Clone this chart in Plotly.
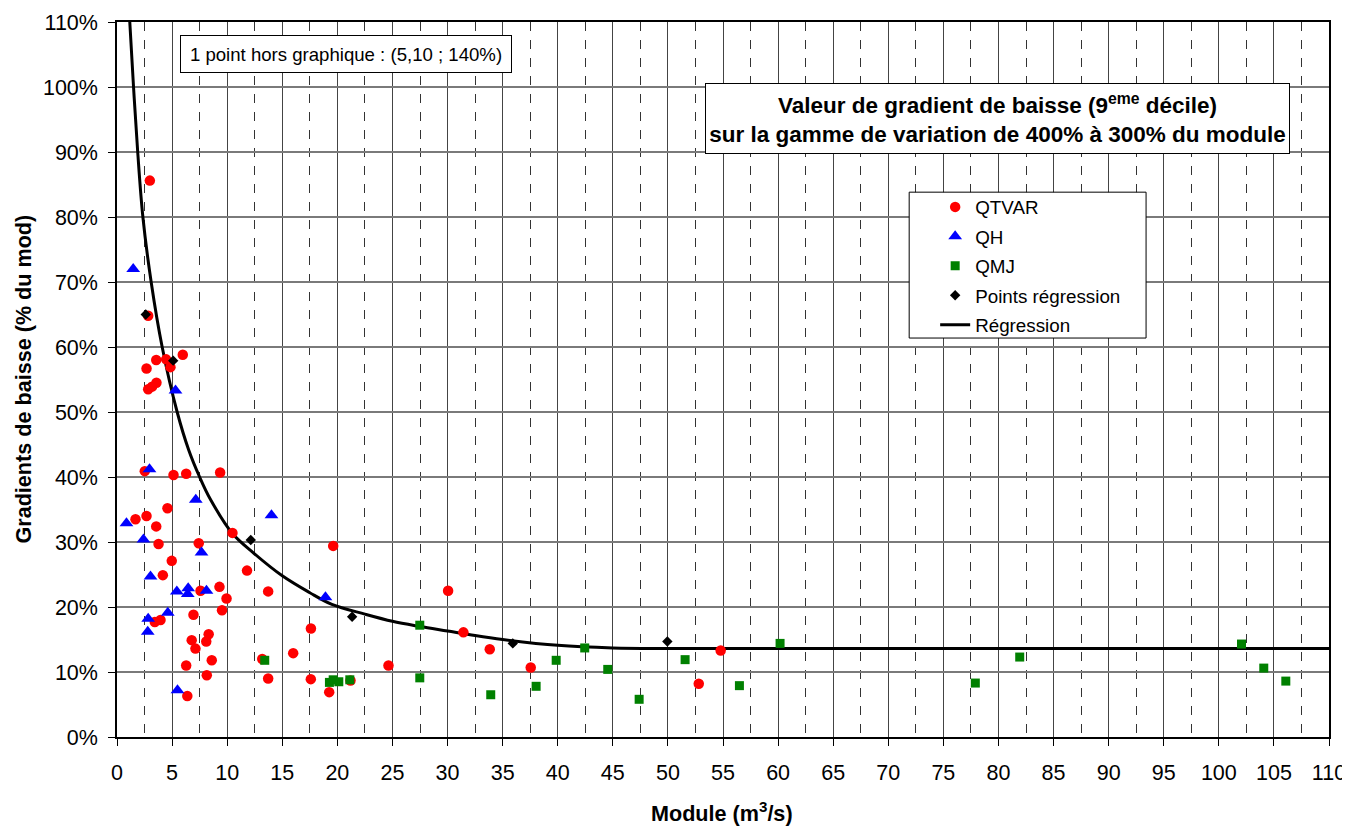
import plotly.graph_objects as go

# ---------------- data ----------------
qtvar_x = [2.98, 2.83, 2.68, 3.56, 4.46, 4.85, 5.97, 2.83, 3.18, 3.58, 2.52, 5.13, 6.28, 9.36,
           4.58, 1.68, 2.68, 3.56, 10.48, 3.77, 7.42, 4.97, 11.8, 4.16, 7.58, 9.3, 13.72, 9.94,
           9.53, 6.94, 3.43, 3.95, 8.32, 8.1, 6.78, 7.12, 15.99, 13.18, 8.6, 6.28, 8.15, 13.72,
           17.59, 17.6, 6.38, 19.62, 30.05, 31.44, 24.64, 19.26, 21.19, 33.83, 37.55, 52.8, 54.79]
qtvar_y = [85.6, 64.8, 56.7, 58.0, 58.1, 56.9, 58.8, 53.5, 53.9, 54.5, 40.9, 40.3, 40.5, 40.7,
           35.2, 33.5, 34.0, 32.4, 31.4, 29.7, 29.8, 27.1, 25.6, 24.9, 22.5, 23.1, 22.4, 21.3,
           19.5, 18.8, 17.7, 18.0, 15.8, 14.7, 14.9, 13.6, 12.9, 12.0, 11.8, 11.0, 9.5, 9.0,
           8.9, 16.7, 6.3, 29.4, 22.5, 16.1, 11.0, 6.9, 8.7, 13.5, 10.7, 8.2, 13.3]

qh_x = [1.47, 5.31, 2.95, 7.15, 14.02, 0.86, 2.4, 7.67, 3.04, 5.43, 6.46, 6.42, 8.12, 4.61,
        2.83, 2.79, 5.49, 18.92]
qh_y = [72.0, 53.3, 41.2, 36.5, 34.1, 32.9, 30.4, 28.4, 24.7, 22.4, 22.9, 22.0, 22.5, 19.1,
        18.2, 16.2, 7.2, 21.5]

qmj_x = [13.41, 27.48, 27.48, 19.62, 19.28, 20.13, 21.13, 33.92, 38.04, 39.86, 42.45, 44.54,
         47.39, 51.56, 56.49, 60.18, 77.9, 81.93, 102.06, 104.08, 106.08]
qmj_y = [11.8, 17.2, 9.1, 8.8, 8.4, 8.5, 8.8, 6.5, 7.8, 11.8, 13.7, 10.4,
         5.8, 11.9, 7.9, 14.4, 8.3, 12.3, 14.3, 10.6, 8.6]

reg_pts_x = [2.61, 5.1, 12.14, 21.34, 35.92, 49.95]
reg_pts_y = [65.0, 57.9, 30.3, 18.5, 14.4, 14.7]

# regression curve, points
curve_x = [1.16, 1.5, 1.88, 2.35, 3.1, 4.1, 5.46, 6.5, 7.5, 8.5, 10.48, 12.4, 15.0, 17.5,
           19.5, 22.5, 25.0, 27.5, 30.0, 32.5, 35.0, 40.0, 45.0, 50.0, 110.0]
curve_y = [110, 100, 90, 80, 70, 60, 50, 44.2, 40, 36.5, 31.3, 28.3, 24.8, 22.2,
           20.4, 18.9, 17.8, 17.0, 16.3, 15.6, 15.0, 14.1, 13.7, 13.6, 13.6]

x_ticks = list(range(0, 111, 5))
y_ticks = list(range(0, 111, 10))

# ---------------- figure ----------------
# the page body has an 8px margin, so the figure is sized/offset to fill the window
OFF = 8
W, H = 1350 - OFF, 832 - OFF
PL, PR, PT, PB = 116.5, 1329.0, 21.7, 737.3     # plot area in window pixels
L, R, T, B = PL - OFF, 1350 - PR, PT - OFF, 832 - PB


def px(xs):
    return (xs - PL) / (PR - PL)


def py(ys):
    return (PB - ys) / (PB - PT)


fig = go.Figure()

fig.add_trace(go.Scatter(x=curve_x, y=curve_y, mode="lines", name="Régression",
                         line=dict(color="black", width=3, shape="spline", smoothing=1.0),
                         legendrank=5, legendgroup="e", hoverinfo="skip"))
fig.add_trace(go.Scatter(x=qtvar_x, y=qtvar_y, mode="markers", name="QTVAR",
                         marker=dict(symbol="circle", size=10.5, color="#FF0000"),
                         legendrank=1, legendgroup="a"))
fig.add_trace(go.Scatter(x=qh_x, y=qh_y, mode="markers", name="QH",
                         marker=dict(symbol="triangle-up", size=12, color="#0000FF"),
                         legendrank=2, legendgroup="b"))
fig.add_trace(go.Scatter(x=qmj_x, y=qmj_y, mode="markers", name="QMJ",
                         marker=dict(symbol="square", size=9, color="#008000"),
                         legendrank=3, legendgroup="c"))
fig.add_trace(go.Scatter(x=reg_pts_x, y=reg_pts_y, mode="markers", name="Points régression",
                         marker=dict(symbol="diamond", size=8, color="black"),
                         legendrank=4, legendgroup="d"))

font_main = "Liberation Sans, Arial, sans-serif"

fig.update_layout(
    width=W, height=H,
    margin=dict(l=L, r=R, t=T, b=B, pad=0, autoexpand=False),
    paper_bgcolor="white", plot_bgcolor="white",
    font=dict(family=font_main, color="black", size=18),
    showlegend=True,
    legend=dict(x=px(935), y=py(188), xanchor="left", yanchor="top",
                bgcolor="rgba(0,0,0,0)", borderwidth=0,
                font=dict(size=18.8, family=font_main),
                tracegroupgap=2, traceorder="grouped", itemwidth=30),
    xaxis=dict(range=[0, 110], tickmode="array", tickvals=x_ticks,
               ticktext=[str(v) for v in x_ticks],
               ticks="outside", ticklen=7, tickcolor="black",
               showgrid=True, gridcolor="#444444", gridwidth=1,
               minor=dict(dtick=2.5, tick0=0, showgrid=True, gridcolor="#333333",
                          griddash="dash", gridwidth=1, ticks=""),
               showline=True, linecolor="black", linewidth=1.5, mirror=True,
               zeroline=False, automargin=False, ticklabelstandoff=8,
               tickfont=dict(size=21.5, family=font_main)),
    yaxis=dict(range=[0, 110], tickmode="array", tickvals=y_ticks,
               ticktext=[f"{v}%" for v in y_ticks],
               ticks="outside", ticklen=7, tickcolor="black",
               showgrid=True, gridcolor="#7a7a7a", gridwidth=1.5,
               showline=True, linecolor="black", linewidth=1.5, mirror=True,
               zeroline=False, automargin=False, ticklabelstandoff=6,
               tickfont=dict(size=21.5, family=font_main)),
)

# legend box (white rectangle under the legend)
fig.add_shape(type="rect", xref="paper", yref="paper",
              x0=px(909), x1=px(1146), y0=py(338), y1=py(192),
              fillcolor="white", line=dict(color="black", width=1), layer="above")

# title box
fig.add_annotation(xref="paper", yref="paper", x=px(997.7), y=py(118),
                   xanchor="center", yanchor="middle", showarrow=False,
                   text="<b>Valeur de gradient de baisse (9<sup>eme</sup> décile)<br>"
                        "sur la gamme de variation de 400% à 300% du module</b>",
                   font=dict(size=22.5, family=font_main), align="center",
                   bgcolor="white", bordercolor="black", borderwidth=1,
                   width=577, height=63, borderpad=3)

# note box
fig.add_annotation(xref="paper", yref="paper", x=px(346), y=py(54),
                   xanchor="center", yanchor="middle", showarrow=False,
                   text="1 point hors graphique : (5,10 ; 140%)",
                   font=dict(size=18.6, family=font_main),
                   bgcolor="white", bordercolor="black", borderwidth=1,
                   width=326, height=32, borderpad=2)

# axis titles
fig.add_annotation(xref="paper", yref="paper", x=px(722), y=py(812),
                   xanchor="center", yanchor="middle", showarrow=False,
                   text="<b>Module (m<sup>3</sup>/s)</b>",
                   font=dict(size=21.6, family=font_main))
fig.add_annotation(xref="paper", yref="paper", x=px(22), y=py(379),
                   xanchor="center", yanchor="middle", showarrow=False, textangle=-90,
                   text="<b>Gradients de baisse (% du mod)</b>",
                   font=dict(size=21.6, family=font_main))

fig.write_html("out.html")
